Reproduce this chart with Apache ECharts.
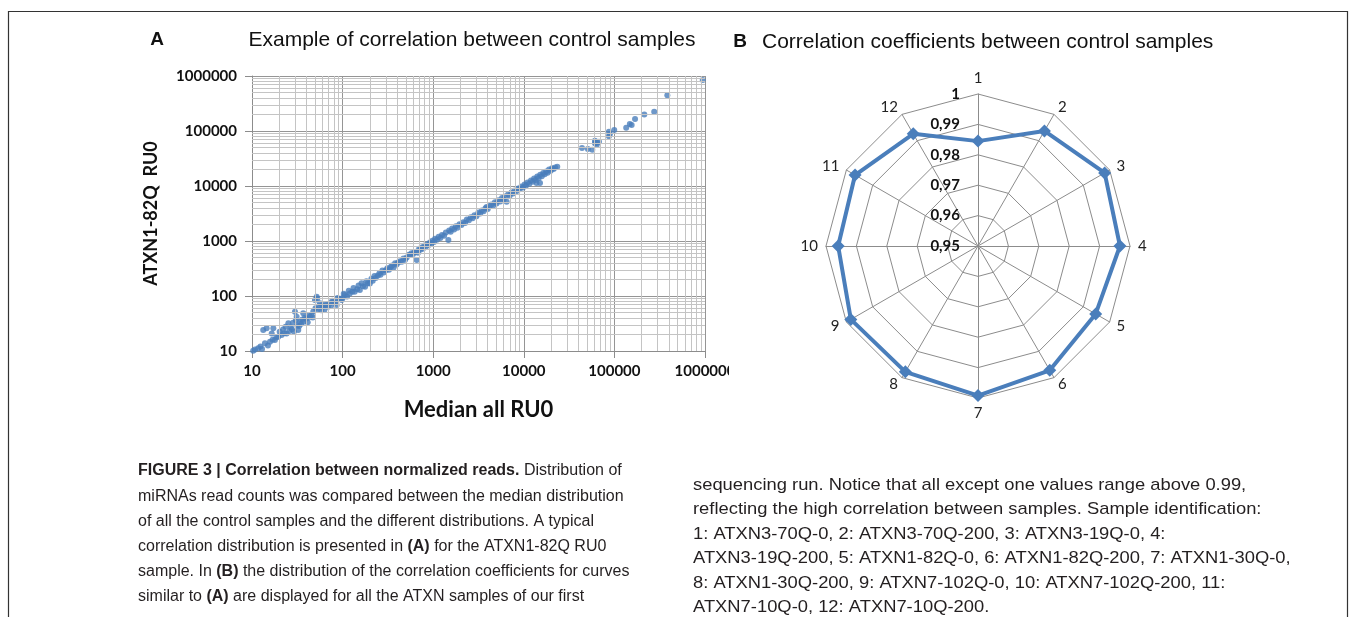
<!DOCTYPE html>
<html><head><meta charset="utf-8">
<script src="https://cdn.jsdelivr.net/npm/echarts@6/dist/echarts.min.js"></script>
<style>html,body{margin:0;padding:0;background:#fff}#c{width:1356px;height:617px}</style>
</head><body><div id="c"></div>
<script>
// ---- Panel A data ----
const xTicks = [10, 100, 1000, 10000, 100000, 1000000];
const yTicks = [10, 100, 1000, 10000, 100000, 1000000];
// [Median all RU0, ATXN1-82Q RU0]
const scatterPoints = [
  [10.3,10.1],[10.8,10.6],[11.7,11.2],[12.4,12.1],[12.9,10.9],[13.3,24.1],[13.9,13.8],[14.5,25.8],[15.0,12.6],[15.8,14.8],
  [16.5,20.9],[16.9,16.0],[17.2,25.8],[17.9,15.9],[18.6,17.8],[19.5,18.2],[20.2,22.3],[21.2,19.5],[22.0,24.5],[22.8,21.0],
  [23.5,27.5],[24.1,20.9],[25.2,31.8],[25.9,23.2],[26.8,27.0],[27.5,24.8],[28.4,32.5],[29.1,22.6],[29.8,51.9],[30.5,36.2],
  [31.1,42.0],[31.6,29.0],[32.4,24.2],[33.2,28.6],[33.8,34.0],[34.9,31.3],[36.0,37.5],[36.8,48.4],[37.2,34.0],[38.4,40.3],
  [40.0,39.0],[41.2,33.2],[42.5,44.0],[43.6,42.0],[45.5,45.0],[46.8,40.5],[47.5,52.0],[49.5,84.5],[50.2,60.0],[51.8,97.0],
  [52.5,90.0],[53.5,57.5],[55.0,66.0],[56.3,73.7],[58.0,55.0],[59.5,68.0],[61.0,63.8],[63.0,56.5],[65.0,71.0],[66.8,68.5],
  [69.0,63.5],[72.5,73.7],[75.0,67.0],[77.0,82.0],[79.0,78.7],[83.0,75.0],[86.0,68.5],[88.0,92.0],[92.0,88.0],[97.6,84.5],
  [100,92],[103,110],[106,104],[112,98],[117,125],[120,111],[128,120],[132,140],[136,119],[145,133],
  [150,155],[155,128],[162,170],[168,150],[177,147],[183,185],[190,170],[200,169],[208,205],[215,190],
  [225,230],[232,212],[245,235],[255,260],[262,244],[275,290],[285,268],[300,295],[312,318],[325,300],
  [340,335],[352,360],[365,330],[380,395],[395,372],[410,405],[430,430],[450,420],[470,480],[490,455],
  [510,500],[540,565],[555,556],[575,600],[600,580],[620,625],[650,640],[658,451],[680,610],[700,720],
  [720,690],[745,760],[770,720],[800,830],[830,790],[860,870],[890,850],[920,940],[950,900],[980,1010],
  [1020,960],[1050,1100],[1100,1050],[1150,1200],[1200,1130],[1250,1280],[1320,1250],[1380,1420],[1470,1042],[1500,1550],
  [1560,1480],[1620,1680],[1700,1620],[1780,1850],[1850,1750],[1950,2020],[2050,1950],[2150,2200],[2250,2120],[2350,2450],
  [2480,2380],[2600,2700],[2720,2580],[2850,2950],[3000,2820],[3150,3300],[3300,3150],[3450,3600],[3600,3480],[3780,3950],
  [3890,4170],[4000,3800],[4200,4350],[4400,4600],[4600,4400],[4800,5050],[5000,4800],[5250,5500],[5500,5250],[5750,6050],
  [6000,5700],[6200,6450],[6460,5190],[6700,7000],[7000,6700],[7300,7650],[7600,7300],[7950,8300],[8300,8000],[8650,9050],
  [9000,8700],[9400,9800],[9800,9400],[10200,10700],[10600,10200],[11000,11600],[11500,11000],[12000,12600],[12500,12000],[13000,13700],
  [13500,12900],[13800,11300],[14100,14900],[14600,14000],[15100,11300],[15200,16000],[15800,15100],[16400,17300],[17000,16300],[17700,18400],
  [18300,17500],[19000,19900],[19800,19000],[20500,21000],[21300,20300],[22200,21700],[23400,22400],
  [43900,49000],[51000,47000],[57000,45700],[61000,66700],[61000,59700],[62500,62000],[63800,55600],[64600,61000],[67600,63800],
  [87000,97000],[87000,80000],[89000,87000],[99600,104000],[135000,115000],[148000,134000],[155000,128000],[169000,165000],
  [214000,200000],[275000,224000],[384000,446000],[944000,845000]
];
// ---- Panel B data ----
const sampleIds = ['1','2','3','4','5','6','7','8','9','10','11','12'];
const correlation = [0.9845, 0.9937, 0.9981, 0.9967, 0.9947, 0.9972, 0.9992, 0.9978, 0.9983, 0.9960, 0.9967, 0.9926];
const radarTicks = ['0,95','0,96','0,97','0,98','0,99','1'];

// ---- Caption ----
const captionLeft = [
  '{b|FIGURE 3 | Correlation between normalized reads.} Distribution of',
  'miRNAs read counts was compared between the median distribution',
  'of all the control samples and the different distributions. A typical',
  'correlation distribution is presented in {b|(A)} for the ATXN1-82Q RU0',
  'sample. In {b|(B)} the distribution of the correlation coefficients for curves',
  'similar to {b|(A)} are displayed for all the ATXN samples of our first'
];
const captionRight = [
  'sequencing run. Notice that all except one values range above 0.99,',
  'reflecting the high correlation between samples. Sample identification:',
  '1: ATXN3-70Q-0, 2: ATXN3-70Q-200, 3: ATXN3-19Q-0, 4:',
  'ATXN3-19Q-200, 5: ATXN1-82Q-0, 6: ATXN1-82Q-200, 7: ATXN1-30Q-0,',
  '8: ATXN1-30Q-200, 9: ATXN7-102Q-0, 10: ATXN7-102Q-200, 11:',
  'ATXN7-10Q-0, 12: ATXN7-10Q-200.'
];

// minor log gridlines (2..9 within each decade)
const minorX = [], minorY = [];
for (let i = 0; i < xTicks.length - 1; i++) for (let m = 2; m <= 9; m++) minorX.push({xAxis: xTicks[i] * m});
for (let i = 0; i < yTicks.length - 1; i++) for (let m = 2; m <= 9; m++) minorY.push({yAxis: yTicks[i] * m});

const order = [0, 11, 10, 9, 8, 7, 6, 5, 4, 3, 2, 1]; // clockwise
const tickFont = {fontFamily: 'Lato', fontWeight: 'bold', fontSize: 15, color: '#111'};
const blue = '#4A7EBB';

const graphics = [
  {type: 'rect', shape: {x: 8.5, y: 11.5, width: 1339, height: 640}, style: {fill: 'none', stroke: '#333', lineWidth: 1.2}, z: 1},
  {type: 'rect', shape: {x: 729, y: 361, width: 30, height: 24}, style: {fill: '#fff'}, z: 100},
  {type: 'text', x: 157, y: 40, style: {text: 'A', font: 'bold 19px "Liberation Sans"', fill: '#111', align: 'center', verticalAlign: 'middle'}},
  {type: 'text', x: 472, y: 40, style: {text: 'Example of correlation between control samples', font: '21px "Liberation Sans"', fill: '#111', align: 'center', verticalAlign: 'middle'}},
  {type: 'text', x: 740, y: 42, style: {text: 'B', font: 'bold 19px "Liberation Sans"', fill: '#111', align: 'center', verticalAlign: 'middle'}},
  {type: 'text', x: 762, y: 42, style: {text: 'Correlation coefficients between control samples', font: '21px "Liberation Sans"', fill: '#111', align: 'left', verticalAlign: 'middle'}}
];
const richB = {b: {fontFamily: 'Liberation Sans', fontWeight: 'bold', fontSize: 16, color: '#231f20'}};
const richB2 = {b: {fontFamily: 'Liberation Sans', fontWeight: 'bold', fontSize: 17, color: '#231f20'}};
captionLeft.forEach((t, i) => graphics.push({type: 'text', x: 138, y: 471 + i * 25.2,
  style: {text: t, rich: richB, fontFamily: 'Liberation Sans', fontSize: 16, fill: '#231f20', align: 'left', verticalAlign: 'middle'}}));
captionRight.forEach((t, i) => graphics.push({type: 'text', x: 693, y: 485 + i * 24.5, scaleX: 1.08,
  style: {text: t, rich: richB2, fontFamily: 'Liberation Sans', fontSize: 17, fill: '#231f20', align: 'left', verticalAlign: 'middle'}}));

const chart = echarts.init(document.getElementById('c'), null, {renderer: 'canvas'});
chart.setOption({
  animation: false,
  backgroundColor: '#fff',
  graphic: graphics,
  grid: {left: 252, top: 76, width: 453, height: 275, containLabel: false},
  xAxis: {
    type: 'log', logBase: 10, min: xTicks[0], max: xTicks[xTicks.length - 1],
    name: 'Median all RU0', nameLocation: 'middle', nameGap: 48,
    nameTextStyle: {fontFamily: 'Lato', fontWeight: 'bold', fontSize: 22, color: '#111'},
    axisLine: {show: true, lineStyle: {color: '#8c8c8c'}},
    axisTick: {show: true, inside: false, length: 7, lineStyle: {color: '#8c8c8c'}},
    axisLabel: Object.assign({margin: 13, formatter: v => String(v)}, tickFont),
    splitLine: {show: true, lineStyle: {color: '#959595', width: 1}}
  },
  yAxis: {
    type: 'log', logBase: 10, min: yTicks[0], max: yTicks[yTicks.length - 1],
    name: 'ATXN1-82Q  RU0', nameLocation: 'middle', nameGap: 92, nameRotate: 90,
    nameTextStyle: {fontFamily: 'Lato', fontWeight: 'bold', fontSize: 18, color: '#111'},
    axisLine: {show: true, lineStyle: {color: '#8c8c8c'}},
    axisTick: {show: true, inside: false, length: 7, lineStyle: {color: '#8c8c8c'}},
    axisLabel: Object.assign({margin: 15, formatter: v => String(v)}, tickFont),
    splitLine: {show: true, lineStyle: {color: '#959595', width: 1}}
  },
  radar: {
    center: [978, 246], radius: 152, startAngle: 90, splitNumber: 5, shape: 'polygon',
    nameGap: 8,
    axisName: {color: '#222', fontFamily: 'Lato', fontSize: 15},
    indicator: order.map((k, j) => {
      const ind = {name: sampleIds[k], min: 0.95, max: 1};
      if (j === 0) ind.axisLabel = {show: true, color: '#111', fontFamily: 'Lato', fontWeight: 'bold', fontSize: 15, margin: 18,
        formatter: v => radarTicks[Math.round((v - 0.95) / 0.01)]};
      return ind;
    }),
    splitLine: {lineStyle: {color: '#8c8c8c', width: 1}},
    splitArea: {show: false},
    axisLine: {lineStyle: {color: '#8c8c8c', width: 1}},
    axisTick: {show: false},
    axisLabel: {show: false}
  },
  series: [
    {type: 'line', data: [], z: 1, silent: true,
     markLine: {silent: true, symbol: ['none', 'none'], label: {show: false}, animation: false,
       lineStyle: {color: '#c4c4c4', type: 'solid', width: 1}, emphasis: {disabled: true},
       data: minorX.concat(minorY)}},
    {type: 'scatter', z: 3, symbol: 'circle', symbolSize: 6, itemStyle: {color: blue}, data: scatterPoints},
    {type: 'radar', symbol: 'diamond', symbolSize: 13,
     lineStyle: {color: blue, width: 4}, itemStyle: {color: blue},
     data: [{value: order.map(k => correlation[k]), name: 'r'}]}
  ]
});
</script></body></html>
